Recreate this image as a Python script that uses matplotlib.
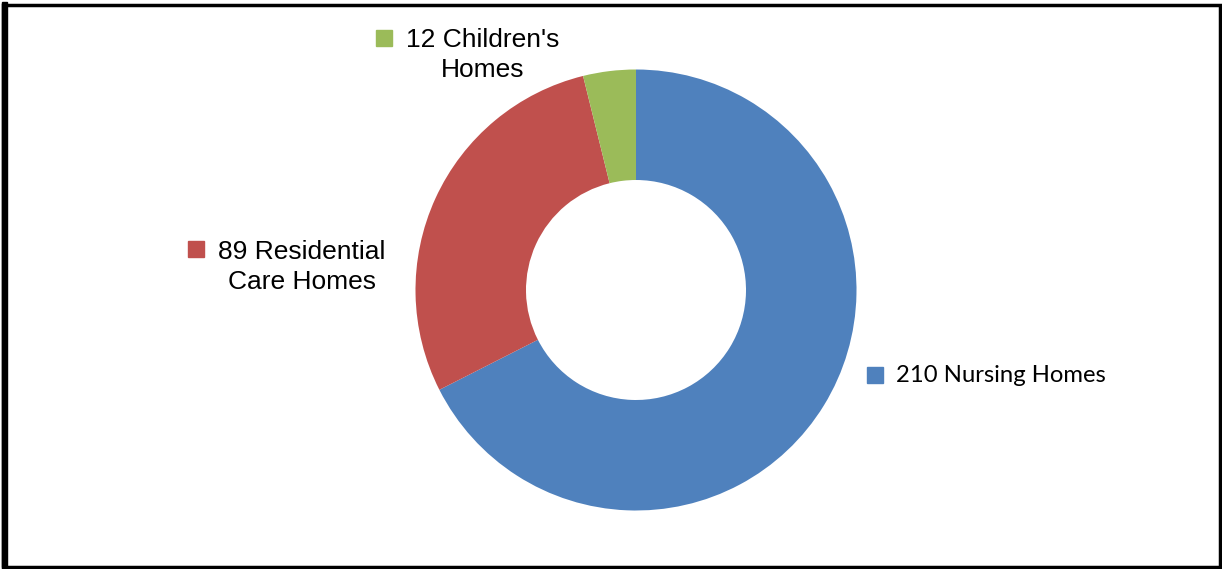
import matplotlib.pyplot as plt
from matplotlib.patches import Rectangle

# =============================
# DATA
# =============================
counts = [210, 89, 12]
names = ["Nursing Homes", "Residential\nCare Homes", "Children's\nHomes"]
colors = ["#4F81BD", "#C0504D", "#9BBB59"]

W, H = 1222, 569
fig = plt.figure(figsize=(W / 100, H / 100), dpi=100)
ax = fig.add_axes([0, 0, 1, 1])
ax.set_xlim(0, W)
ax.set_ylim(0, H)
ax.axis("off")

# donut
ax.pie(counts, colors=colors, startangle=90, counterclock=False,
       center=(636, H - 290), radius=220.5,
       wedgeprops=dict(width=110.5, linewidth=0))
ax.set_xlim(0, W)
ax.set_ylim(0, H)
ax.set_aspect("equal")

# =============================
# LABELS (placed like the source)
# =============================
label_pos = [(896, 375), (302, 267), (483, 55)]
marker_pos = [(875, 375), (196, 249), (384, 38)]
families = ["Lato", "Liberation Sans", "Liberation Sans"]
sizes = [17.2, 19, 19]

for n, name, c, (tx, ty), (mx, my), fam, fs in zip(counts, names, colors, label_pos,
                                                  marker_pos, families, sizes):
    text = f"{n} {name}"
    ax.plot(mx, H - my, marker="s", markersize=11.5, color=c, linestyle="none")
    if "\n" in text:
        ax.text(tx, H - ty, text, ha="center", va="center", fontsize=fs,
                family=fam, linespacing=1.3)
    else:
        ax.text(tx, H - ty, text, ha="left", va="center", fontsize=fs, family=fam)

# frame
fig.patches.append(Rectangle((3 / W, 2.5 / H), (W - 5.5) / W, (H - 7) / H,
                             transform=fig.transFigure, fill=False,
                             edgecolor="black", linewidth=2.5))
fig.patches.append(Rectangle((2 / W, 2 / H), 5 / W, (H - 4) / H,
                             transform=fig.transFigure, color="black"))

fig.savefig("out.png", dpi=100)
